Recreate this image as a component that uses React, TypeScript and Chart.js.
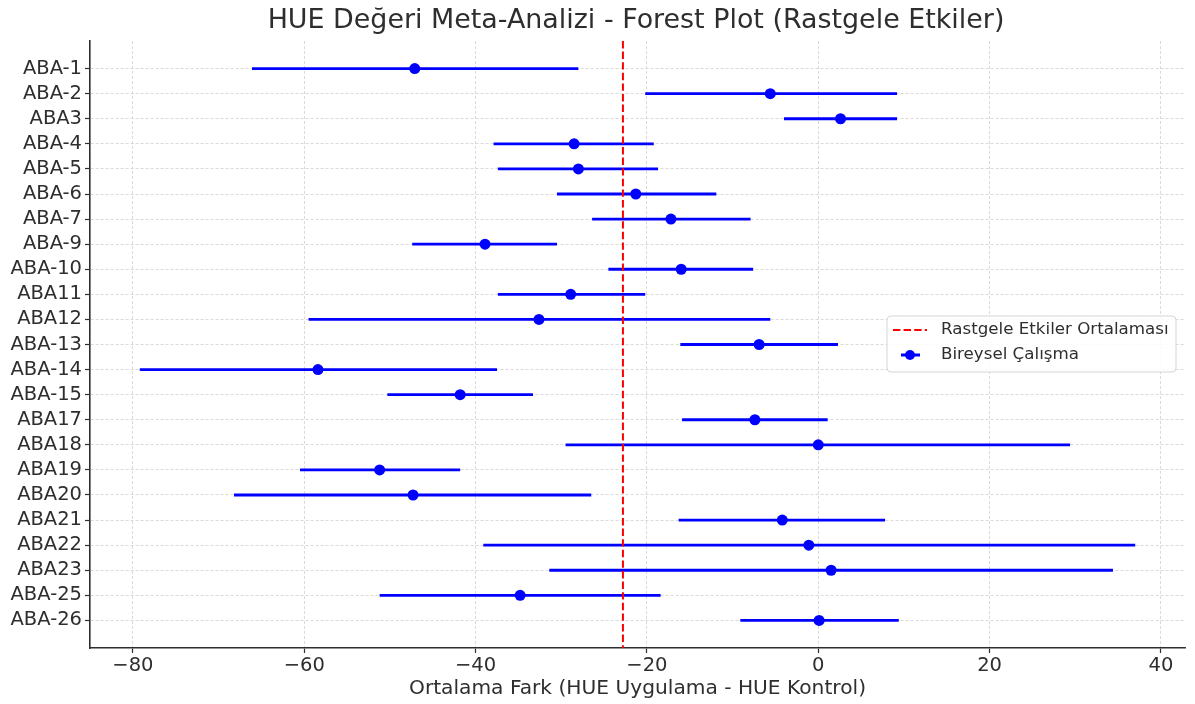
import React, { useEffect, useRef } from "react";
import { Chart, registerables } from "chart.js";

Chart.register(...registerables);

const studies = ["ABA-1","ABA-2","ABA3","ABA-4","ABA-5","ABA-6","ABA-7","ABA-9","ABA-10","ABA11","ABA12","ABA-13","ABA-14","ABA-15","ABA17","ABA18","ABA19","ABA20","ABA21","ABA22","ABA23","ABA-25","ABA-26"];
const means = [-47.1,-5.6,2.6,-28.5,-28.0,-21.3,-17.2,-38.9,-16.0,-28.9,-32.6,-6.9,-58.4,-41.8,-7.4,0.0,-51.2,-47.3,-4.2,-1.1,1.5,-34.8,0.1];
const lowerCI = [-66.1,-20.2,-4.0,-37.9,-37.4,-30.5,-26.4,-47.4,-24.5,-37.4,-59.5,-16.1,-79.2,-50.3,-15.9,-29.5,-60.5,-68.2,-16.3,-39.1,-31.4,-51.2,-9.1];
const upperCI = [-28.0,9.2,9.2,-19.2,-18.7,-11.9,-7.9,-30.5,-7.6,-20.2,-5.6,2.3,-37.5,-33.3,1.1,29.4,-41.8,-26.5,7.8,37.0,34.4,-18.4,9.4];
const pooledMean = -22.8;
const xTicks = [-80, -60, -40, -20, 0, 20, 40];

const titleText = "HUE Değeri Meta-Analizi - Forest Plot (Rastgele Etkiler)";
const xTitle = "Ortalama Fark (HUE Uygulama - HUE Kontrol)";
const legendLabels = ["Rastgele Etkiler Ortalaması", "Bireysel Çalışma"];

const FONT = "'DejaVu Sans', sans-serif";
const TEXT = "#2e2e2e";

export default function App() {
  const ref = useRef<HTMLCanvasElement>(null);
  useEffect(() => {
    if (!ref.current) return;
    const n = studies.length;
    const yMin = -0.05 * (n - 1);
    const yMax = (n - 1) * 1.05;
    const ciData: any[] = [];
    studies.forEach((_, i) => {
      ciData.push({ x: lowerCI[i], y: i });
      ciData.push({ x: upperCI[i], y: i });
      ciData.push({ x: null, y: null });
    });
    const pts = means.map((m, i) => ({ x: m, y: i }));
    const allX = [...lowerCI, ...upperCI];
    const lo = Math.min(...allX), hi = Math.max(...allX);
    const xMin = lo - 0.05 * (hi - lo);
    const xMax = hi + 0.05 * (hi - lo);

    const overlay = {
      id: "overlay",
      afterDraw(chart: any) {
        const ctx = chart.ctx;
        ctx.save();
        ctx.fillStyle = TEXT;
        ctx.font = `26.9px ${FONT}`;
        ctx.textAlign = "center";
        ctx.textBaseline = "middle";
        ctx.fillText(titleText, 636, 21);
        // legend
        const bx = 887, by = 316, bw = 289, bh = 56;
        ctx.beginPath();
        ctx.roundRect(bx, by, bw, bh, 4);
        ctx.fillStyle = "rgba(255,255,255,0.85)";
        ctx.fill();
        ctx.strokeStyle = "#d5d5d5";
        ctx.lineWidth = 1;
        ctx.stroke();
        ctx.strokeStyle = "#ff0000";
        ctx.lineWidth = 2;
        ctx.setLineDash([7.4, 3.2]);
        ctx.beginPath();
        ctx.moveTo(893, 330);
        ctx.lineTo(927, 330);
        ctx.stroke();
        ctx.setLineDash([]);
        ctx.strokeStyle = "#0000ff";
        ctx.lineWidth = 3;
        ctx.beginPath();
        ctx.moveTo(901, 355);
        ctx.lineTo(920, 355);
        ctx.stroke();
        ctx.fillStyle = "#0000ff";
        ctx.beginPath();
        ctx.arc(910, 355, 5, 0, Math.PI * 2);
        ctx.fill();
        ctx.fillStyle = TEXT;
        ctx.font = `16.7px ${FONT}`;
        ctx.textAlign = "left";
        ctx.fillText(legendLabels[0], 941, 330);
        ctx.fillText(legendLabels[1], 941, 355);
        ctx.restore();
      },
    };

    const chart = new Chart(ref.current, {
      type: "line",
      data: {
        datasets: [
          {
            label: legendLabels[0],
            data: [{ x: pooledMean, y: yMin }, { x: pooledMean, y: yMax }],
            borderColor: "#ff0000",
            borderWidth: 2,
            borderDash: [7.4, 3.2],
            pointRadius: 0,
            order: 0,
          },
          {
            label: legendLabels[1],
            data: pts,
            showLine: false,
            pointRadius: 5.5,
            pointBackgroundColor: "#0000ff",
            pointBorderWidth: 0,
            borderColor: "#0000ff",
            order: 1,
          },
          {
            label: "ci",
            data: ciData,
            borderColor: "#0000ff",
            borderWidth: 2.8,
            pointRadius: 0,
            spanGaps: false,
            order: 2,
          },
        ],
      },
      options: {
        responsive: false,
        animation: false,
        parsing: false as any,
        layout: { padding: { top: 41, right: 10, left: 0, bottom: 0 } },
        plugins: { legend: { display: false }, tooltip: { enabled: false }, title: { display: false } },
        scales: {
          x: {
            type: "linear",
            min: xMin,
            max: xMax,
            afterBuildTicks: (s: any) => { s.ticks = xTicks.map((v) => ({ value: v })); },
            afterFit: (s: any) => { s.height = 56; },
            ticks: {
              color: TEXT,
              font: { family: FONT, size: 19.5 },
              padding: 1,
              callback: (v: any) => (v < 0 ? "\u2212" + Math.abs(v) : String(v)),
              maxRotation: 0,
            },
            grid: { color: "#d0d0d0", lineWidth: 0.8, tickColor: TEXT, tickLength: 5, tickWidth: 1.2 },
            border: { display: true, color: TEXT, width: 1.6, dash: [3, 2] },
            title: { display: true, text: xTitle, color: TEXT, font: { family: FONT, size: 20.2 }, padding: { top: 0, bottom: 3 } },
          },
          y: {
            type: "linear",
            reverse: true,
            min: yMin,
            max: yMax,
            afterBuildTicks: (s: any) => { s.ticks = studies.map((_, i) => ({ value: i })); },
            afterFit: (s: any) => { s.width = 90; },
            ticks: {
              color: TEXT,
              font: { family: FONT, size: 19.5 },
              padding: 3,
              callback: (v: any) => studies[v] ?? "",
            },
            grid: { color: "#d0d0d0", lineWidth: 0.8, tickColor: TEXT, tickLength: 5, tickWidth: 1.2 },
            border: { display: true, color: TEXT, width: 1.6, dash: [3, 2] },
          },
        },
      },
      plugins: [overlay],
    } as any);
    return () => chart.destroy();
  }, []);
  return (
    <div style={{ position: "fixed", left: 0, top: 0, width: 1195, height: 704, background: "#fff" }}>
      <canvas ref={ref} width={1195} height={704} style={{ display: "block" }} />
    </div>
  );
}
